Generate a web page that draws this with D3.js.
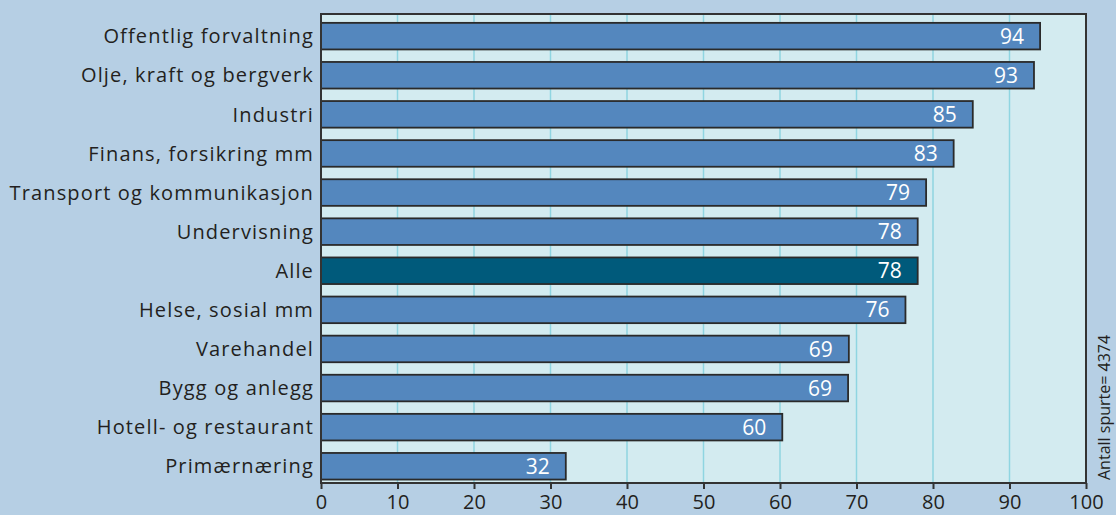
<!DOCTYPE html>
<html><head><meta charset="utf-8">
<script src="https://cdn.jsdelivr.net/npm/d3@7"></script>
<style>html,body{margin:0;padding:0;background:#b6cfe4;}svg{display:block;}</style>
</head><body><svg id="c" width="1116" height="515"></svg>
<script>
const categories = ["Offentlig forvaltning","Olje, kraft og bergverk","Industri","Finans, forsikring mm","Transport og kommunikasjon","Undervisning","Alle","Helse, sosial mm","Varehandel","Bygg og anlegg","Hotell- og restaurant","Primærnæring"];
const values = [94, 93.2, 85.2, 82.7, 79.1, 78, 78, 76.4, 69, 68.9, 60.3, 32];
const xTicks = [0,10,20,30,40,50,60,70,80,90,100];
const highlight = "Alle";
const note = "Antall spurte= 4374";

const svg = d3.select("#c");
const L = 321, R = 1086, T = 14, B = 483;
const font = "'Open Sans', sans-serif";
const x = d3.scaleLinear().domain([0,100]).range([L,R]);
const y = d3.scaleBand().domain(categories).range([16.6, 485.8]).paddingInner(0.32).paddingOuter(0.16);

svg.append("rect").attr("x",L).attr("y",T).attr("width",R-L).attr("height",B-T).attr("fill","#d3ebf0");
svg.append("g").selectAll("line").data(xTicks.filter(d=>d>0&&d<100)).join("line")
  .attr("x1",d=>x(d)).attr("x2",d=>x(d)).attr("y1",T).attr("y2",B)
  .attr("stroke","#8fd5e1").attr("stroke-width",1.5);

svg.append("g").selectAll("rect").data(categories).join("rect")
  .attr("x",L).attr("y",d=>y(d)).attr("width",(d,i)=>x(values[i])-L).attr("height",y.bandwidth())
  .attr("fill",d=>d===highlight?"#005a7b":"#5487be").attr("stroke","#2a2a2a").attr("stroke-width",1.8);

svg.append("g").selectAll("text").data(categories).join("text")
  .attr("x",(d,i)=>x(values[i])-16).attr("y",d=>y(d)+y.bandwidth()/2).attr("dy","0.36em")
  .attr("text-anchor","end").attr("fill","#fff").attr("font-family",font).attr("font-size",21)
  .text((d,i)=>Math.round(values[i]));

svg.append("g").selectAll("text").data(categories).join("text")
  .attr("x",L-7).attr("y",d=>y(d)+y.bandwidth()/2).attr("dy","0.36em")
  .attr("text-anchor","end").attr("fill","#231f20").attr("font-family",font).attr("font-size",20)
  .attr("letter-spacing","1.15px")
  .text(d=>d);

svg.append("rect").attr("x",L).attr("y",T).attr("width",R-L).attr("height",B-T).attr("fill","none").attr("stroke","#333").attr("stroke-width",2);

const ax = svg.append("g").attr("transform",`translate(0,${B})`)
  .call(d3.axisBottom(x).tickValues(xTicks).tickSize(6).tickFormat(d3.format("d")));
ax.select(".domain").remove();
ax.selectAll("line").attr("stroke","#333").attr("stroke-width",2);
ax.selectAll("text").attr("y",26).attr("dy",null).attr("font-family",font).attr("font-size",20).attr("fill","#231f20");

svg.append("text").attr("transform",`translate(1110,480) rotate(-90)`)
  .attr("font-family",font).attr("font-size",16).attr("fill","#231f20").text(note);
</script></body></html>
